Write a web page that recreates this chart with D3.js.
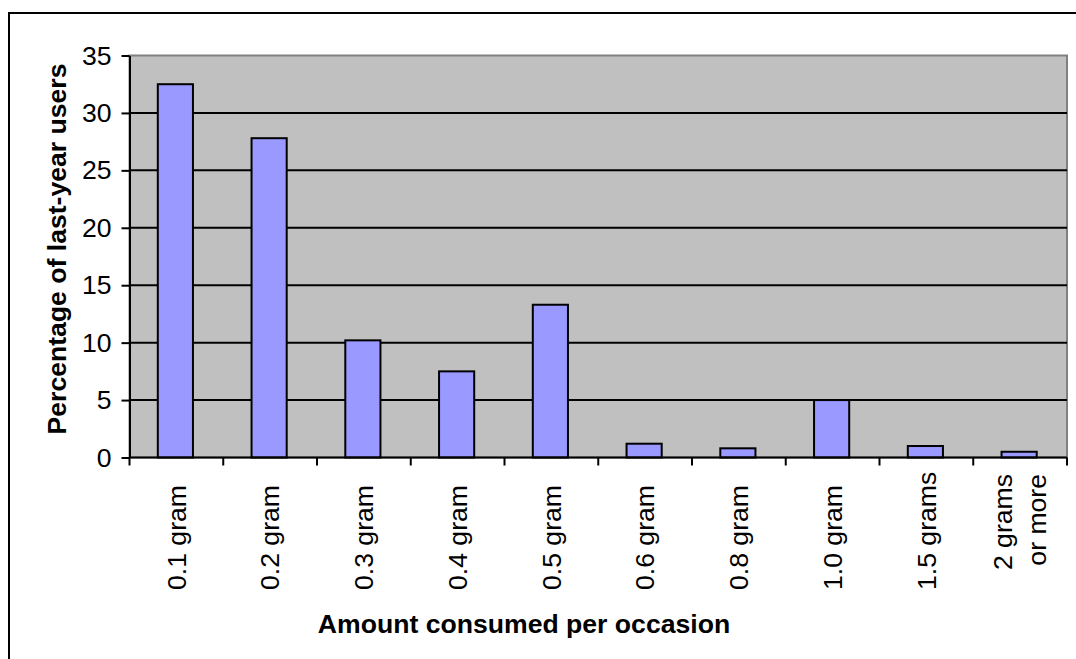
<!DOCTYPE html>
<html>
<head>
<meta charset="utf-8">
<script src="https://cdn.jsdelivr.net/npm/d3@7"></script>
<style>
  html, body { margin: 0; padding: 0; background: #fff; }
  svg { display: block; font-family: "Liberation Sans", Arial, sans-serif; }
</style>
</head>
<body>
<svg id="chart" width="1076" height="659"></svg>
<script>
// ---- data ----
const categories = ["0.1 gram", "0.2 gram", "0.3 gram", "0.4 gram", "0.5 gram",
                    "0.6 gram", "0.8 gram", "1.0 gram", "1.5 grams", "2 grams\nor more"];
const values = [32.5, 27.8, 10.2, 7.5, 13.3, 1.2, 0.8, 5.0, 1.0, 0.5];
const yTicks = [0, 5, 10, 15, 20, 25, 30, 35];
const yTitle = "Percentage of last-year users";
const xTitle = "Amount consumed per occasion";

// ---- layout ----
const svg = d3.select("#chart");
const plot = { left: 129.5, right: 1067, top: 55.5, bottom: 457.5 };
const fontSize = 26.6;

// outer chart border (extends beyond the visible picture on right & bottom)
svg.append("rect")
  .attr("x", 9).attr("y", 13).attr("width", 1100).attr("height", 700)
  .attr("fill", "#fff").attr("stroke", "#000").attr("stroke-width", 2);

const x = d3.scaleBand().domain(categories).range([plot.left, plot.right]).padding(0);
const y = d3.scaleLinear().domain([0, 35]).range([plot.bottom, plot.top]);

// plot background
svg.append("rect")
  .attr("x", plot.left).attr("y", plot.top)
  .attr("width", plot.right - plot.left).attr("height", plot.bottom - plot.top)
  .attr("fill", "#C0C0C0").attr("stroke", "#808080").attr("stroke-width", 2);

// gridlines
svg.append("g").selectAll("line").data(yTicks.filter(d => d > 0 && d < 35)).join("line")
  .attr("x1", plot.left).attr("x2", plot.right)
  .attr("y1", d => y(d)).attr("y2", d => y(d))
  .attr("stroke", "#000").attr("stroke-width", 2);

// bars
const barW = x.bandwidth() * 0.375;
svg.append("g").selectAll("rect").data(values).join("rect")
  .attr("x", (d, i) => x(categories[i]) + x.bandwidth() / 2 - barW / 2 - 1)
  .attr("y", d => y(d))
  .attr("width", barW)
  .attr("height", d => y(0) - y(d))
  .attr("fill", "#9999FF").attr("stroke", "#000").attr("stroke-width", 2);

// y axis
const yAxis = svg.append("g").attr("transform", `translate(${plot.left},0)`)
  .call(d3.axisLeft(y).tickValues(yTicks).tickSize(8).tickPadding(10).tickSizeOuter(0));
yAxis.select(".domain").attr("stroke", "#000").attr("stroke-width", 2);
yAxis.selectAll(".tick line").attr("stroke", "#000").attr("stroke-width", 2);
yAxis.selectAll(".tick text").attr("font-size", fontSize).attr("fill", "#000")
  .attr("font-family", "Liberation Sans, Arial, sans-serif");

// x axis (ticks at category boundaries)
const boundaries = categories.map(c => x(c)).concat([plot.right]);
svg.append("line")
  .attr("x1", plot.left).attr("x2", plot.right)
  .attr("y1", plot.bottom).attr("y2", plot.bottom)
  .attr("stroke", "#000").attr("stroke-width", 2);
svg.append("g").selectAll("line").data(boundaries).join("line")
  .attr("x1", d => d).attr("x2", d => d)
  .attr("y1", plot.bottom).attr("y2", plot.bottom + 8)
  .attr("stroke", "#000").attr("stroke-width", 2);

// x labels (rotated)
const xl = svg.append("g");
categories.forEach(c => {
  const lines = c.split("\n");
  const cx = x(c) + x.bandwidth() / 2;
  if (lines.length === 1) {
    xl.append("text")
      .attr("transform", `translate(${cx},590) rotate(-90)`)
      .attr("text-anchor", "start").attr("dy", "0.35em")
      .attr("font-size", fontSize).attr("fill", "#000")
      .text(c);
  } else {
    const sp = 34;
    lines.forEach((l, k) => {
      const off = (k - (lines.length - 1) / 2) * sp;
      xl.append("text")
        .attr("transform", `translate(${cx + off},474) rotate(-90)`)
        .attr("text-anchor", "end").attr("dy", "0.35em")
        .attr("font-size", fontSize).attr("fill", "#000")
        .text(l);
    });
  }
});

// axis titles
svg.append("text")
  .attr("x", 524).attr("y", 633)
  .attr("text-anchor", "middle").attr("font-size", fontSize).attr("font-weight", "bold")
  .text(xTitle);
svg.append("text")
  .attr("transform", "translate(57,249) rotate(-90)")
  .attr("text-anchor", "middle").attr("dy", "0.35em")
  .attr("font-size", fontSize).attr("font-weight", "bold")
  .text(yTitle);
</script>
</body>
</html>
